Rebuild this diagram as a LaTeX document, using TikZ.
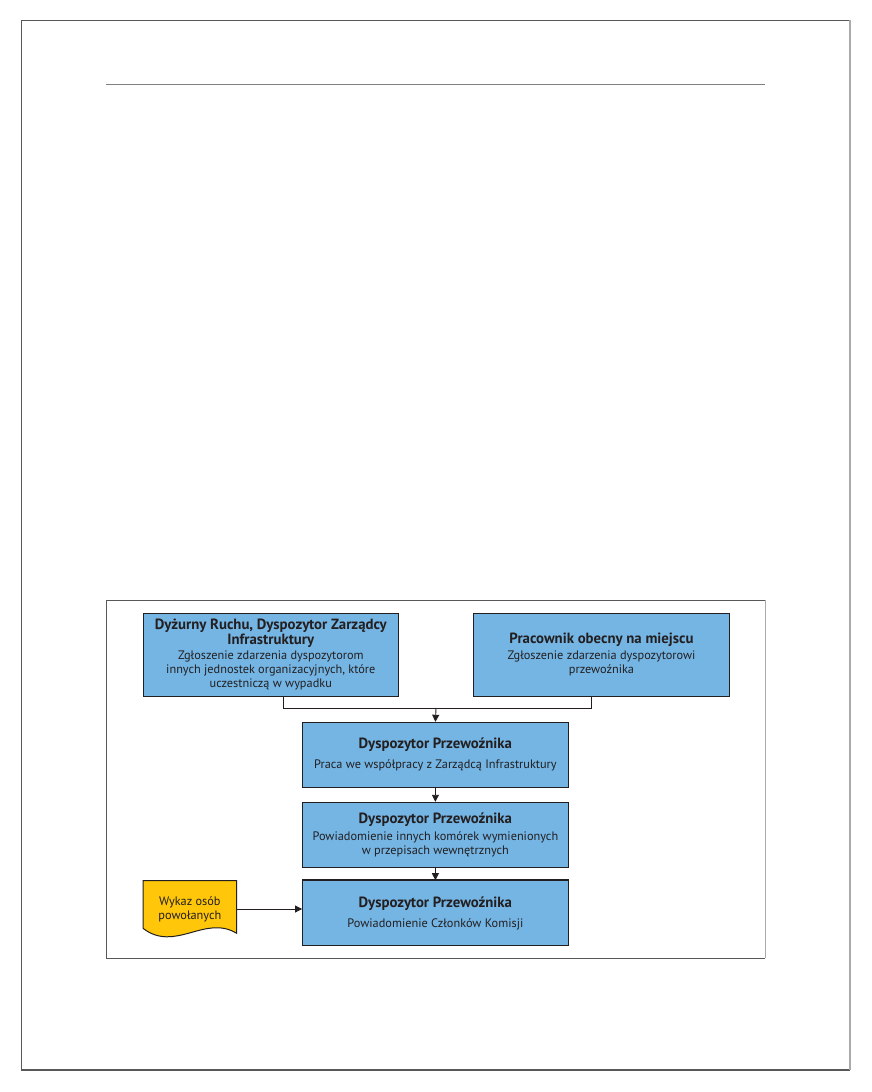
\documentclass[tikz,border=0pt]{standalone}
\usepackage{fontspec}
\setmainfont{PT Sans}
\usetikzlibrary{arrows.meta}
\definecolor{boxblue}{RGB}{116,181,228}
\definecolor{docyellow}{RGB}{255,198,10}
\definecolor{ink}{RGB}{35,31,32}
\definecolor{framegray}{RGB}{88,88,88}
\definecolor{framelight}{RGB}{170,170,170}
\definecolor{rulegray}{RGB}{128,128,128}
\newcommand{\ttl}{\fontsize{14.8}{15}\bfseries\selectfont}
\tikzset{
  procbox/.style={draw=ink, fill=boxblue, line width=1pt, text=ink, align=center,
    inner sep=0pt, font=\fontsize{12.3}{14}\selectfont},
  link/.style={draw=ink, line width=0.9pt},
  flowarrow/.style={link, -{Triangle[length=7pt,width=7pt]}},
  docshape/.style={draw=ink, fill=docyellow, line width=1pt},
  doctext/.style={text=ink, align=center, inner sep=0pt, font=\fontsize{12.3}{14}\selectfont},
}
\begin{document}
\begin{tikzpicture}[x=1pt,y=-1pt]
\useasboundingbox (0,0) rectangle (872,1092);
\fill[white] (0,0) rectangle (872,1092);
% page frame
\draw[framegray, line width=1.2pt] (850,20.3) -- (21.3,20.3) -- (21.3,1070) -- (850,1070);
\draw[framelight, line width=1.2pt] (850,20.3) -- (850,1070);
% header rule
\draw[rulegray, line width=1pt] (106,84) -- (765,84);
% diagram frame
\draw[framegray, line width=1pt] (765,600.3) -- (106.3,600.3) -- (106.3,958) -- (765,958);
\draw[framelight, line width=1pt] (765,600.3) -- (765,958);

% boxes
\node[procbox, minimum width=255.6pt, minimum height=82.7pt] (A) at (270.8,654.7)
  {\ttl Dyżurny Ruchu, Dyspozytor Zarządcy\\[0.5pt] \ttl Infrastruktury\\[1.5pt]
   Zgłoszenie zdarzenia dyspozytorom\\ innych jednostek organizacyjnych, które\\ uczestniczą w wypadku};
\node[procbox, minimum width=256pt, minimum height=82.7pt] (B) at (601.5,654.7)
  {\ttl Pracownik obecny na miejscu\\[1.5pt] Zgłoszenie zdarzenia dyspozytorowi\\ przewoźnika};
\node[procbox, minimum width=265.7pt, minimum height=65pt] (C) at (435.4,754.8)
  {\ttl Dyspozytor Przewoźnika\\[6pt] Praca we współpracy z Zarządcą Infrastruktury};
\node[procbox, minimum width=265.7pt, minimum height=65pt] (D) at (435.4,834.8)
  {\ttl Dyspozytor Przewoźnika\\[2.5pt] Powiadomienie innych komórek wymienionych\\ w przepisach wewnętrznych};
\node[procbox, minimum width=265.7pt, minimum height=64.6pt] (E) at (435.4,913)
  {\ttl Dyspozytor Przewoźnika\\[6pt] Powiadomienie Członków Komisji};
\draw[ink, line width=2.2pt] (E.north west) -- (E.north east);

% document shape
\draw[docshape] (143,880.7) -- (236.7,880.7) -- (236.7,933.3)
  .. controls (205,914) and (175,953) .. (143,928.3) -- cycle;
\node[doctext, minimum width=93.7pt, minimum height=56.6pt] (F) at (189.85,909)
  {Wykaz osób\\ powołanych};

% connectors
\coordinate (ja) at (283,708);
\coordinate (jb) at (591,708);
\coordinate (jm) at (436,708);
\draw[link] (A.south -| ja) -- (ja) -- (jb) -- (B.south -| jb);
\draw[flowarrow] (jm) -- (C.north);
\draw[flowarrow] (C.south) -- (D.north);
\draw[flowarrow] (D.south) -- (E.north);
\draw[flowarrow] (F.east) -- (F.east -| E.west);
\end{tikzpicture}
\end{document}
